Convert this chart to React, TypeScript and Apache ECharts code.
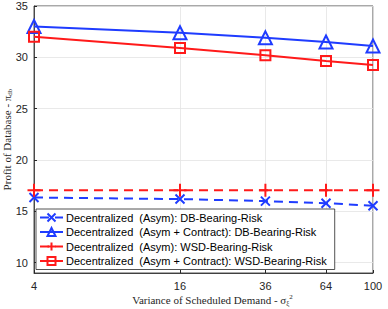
import React, { useEffect, useRef } from "react";
import * as echarts from "echarts";

const variances = [4, 16, 36, 64, 100];
const xTicks = [4, 16, 36, 64, 100];
const yTicks = [10, 15, 20, 25, 30, 35];

const dbAsym = [16.35, 16.2, 16.0, 15.8, 15.55];
const dbContract = [33.0, 32.4, 31.9, 31.5, 31.1];
const wsdAsym = [17.05, 17.05, 17.05, 17.05, 17.05];
const wsdContract = [32.0, 30.9, 30.2, 29.65, 29.25];

const names = [
  "Decentralized  (Asym): DB-Bearing-Risk",
  "Decentralized  (Asym + Contract): DB-Bearing-Risk",
  "Decentralized  (Asym): WSD-Bearing-Risk",
  "Decentralized  (Asym + Contract): WSD-Bearing-Risk",
];

const BLUE = "#1f3cff";
const RED = "#ff1a1a";
const CROSS = "path://M0,0L10,10M10,0L0,10";
const PLUS = "path://M5,0L5,10M0,5L10,5";

export default function App() {
  const ref = useRef<HTMLDivElement>(null);
  useEffect(() => {
    if (!ref.current) return;
    const chart = echarts.init(ref.current, undefined, { renderer: "svg" });
    const lx = (v: number) => Math.log10(v);
    const mk = (vals: number[]) => variances.map((x, i) => [lx(x), vals[i]]);
    const tickFont = { fontFamily: "Liberation Sans", fontSize: 11, color: "#262626" };
    const series: any[] = [
      {
        name: names[0], type: "line", data: mk(dbAsym), symbol: CROSS, symbolSize: 9,
        lineStyle: { color: BLUE, width: 2, type: [9, 6] },
        itemStyle: { color: BLUE, borderColor: BLUE, borderWidth: 2 },
      },
      {
        name: names[1], type: "line", data: mk(dbContract), symbol: "triangle", symbolSize: 13,
        lineStyle: { color: BLUE, width: 2 },
        itemStyle: { color: "rgba(255,255,255,0)", borderColor: BLUE, borderWidth: 2 },
      },
      {
        name: names[2], type: "line", data: mk(wsdAsym), symbol: PLUS, symbolSize: 13,
        lineStyle: { color: RED, width: 2, type: [9, 6] },
        itemStyle: { color: RED, borderColor: RED, borderWidth: 2 },
      },
      {
        name: names[3], type: "line", data: mk(wsdContract), symbol: "rect", symbolSize: 10,
        lineStyle: { color: RED, width: 2 },
        itemStyle: { color: "rgba(255,255,255,0)", borderColor: RED, borderWidth: 2 },
      },
    ];
    chart.setOption({
      animation: false,
      grid: {
        left: 34, right: 15, top: 6, bottom: 36, show: true, outerBoundsMode: "none", containLabel: false,
        borderColor: "#262626", borderWidth: 0.8, backgroundColor: "#fff",
      },
      xAxis: {
        type: "value", min: lx(4), max: lx(100),
        name: "Variance of Scheduled Demand - σ{sub|ξ}{sup|2}",
        nameLocation: "middle", nameGap: 20, nameMoveOverlap: false,
        nameTextStyle: {
          fontFamily: "Liberation Serif", fontSize: 11, color: "#262626", padding: [0, 0, 0, 18],
          rich: {
            sub: { fontFamily: "Liberation Serif", fontSize: 7, color: "#262626", padding: [6, 0, 0, 0] },
            sup: { fontFamily: "Liberation Serif", fontSize: 7, color: "#262626", padding: [0, 0, 6, 0] },
          },
        },
        axisLine: { show: true, lineStyle: { color: "#262626", width: 0.8 } },
        axisTick: { show: true, inside: true, length: 3, customValues: xTicks.map(lx), lineStyle: { color: "#262626" } },
        axisLabel: {
          ...tickFont, margin: 7, customValues: xTicks.map(lx),
          formatter: (v: number) => String(Math.round(Math.pow(10, v))),
        },
        splitLine: { show: true, lineStyle: { color: "#e3e3e3", width: 0.8 } },
      },
      yAxis: {
        type: "value", min: 9, max: 35,
        name: "Profit of Database - π{sub|db}",
        nameLocation: "middle", nameGap: 21, nameRotate: 90, nameMoveOverlap: false,
        nameTextStyle: {
          fontFamily: "Liberation Serif", fontSize: 11, color: "#262626",
          rich: {
            sub: { fontFamily: "Liberation Serif", fontSize: 7, color: "#262626", padding: [5, 0, 0, 0] },
          },
        },
        axisLine: { show: true, lineStyle: { color: "#262626", width: 0.8 } },
        axisTick: { show: true, inside: true, length: 3, customValues: yTicks, lineStyle: { color: "#262626" } },
        axisLabel: { ...tickFont, margin: 6, customValues: yTicks },
        splitLine: { show: true, lineStyle: { color: "#e3e3e3", width: 0.8 } },
      },
      legend: {
        orient: "vertical", left: 36, top: 209, width: 307,
        itemWidth: 23, itemHeight: 10, itemGap: 3.5,
        padding: [3, 8, 3, 3],
        backgroundColor: "#fff", borderColor: "#262626", borderWidth: 0.8,
        textStyle: { fontFamily: "Liberation Sans", fontSize: 11, color: "#000", padding: [0, 0, 0, -2] },
        data: names,
      },
      series,
    });
    return () => chart.dispose();
  }, []);
  return <div ref={ref} style={{ width: 388, height: 309, position: "absolute", left: 0, top: 0 }} />;
}
